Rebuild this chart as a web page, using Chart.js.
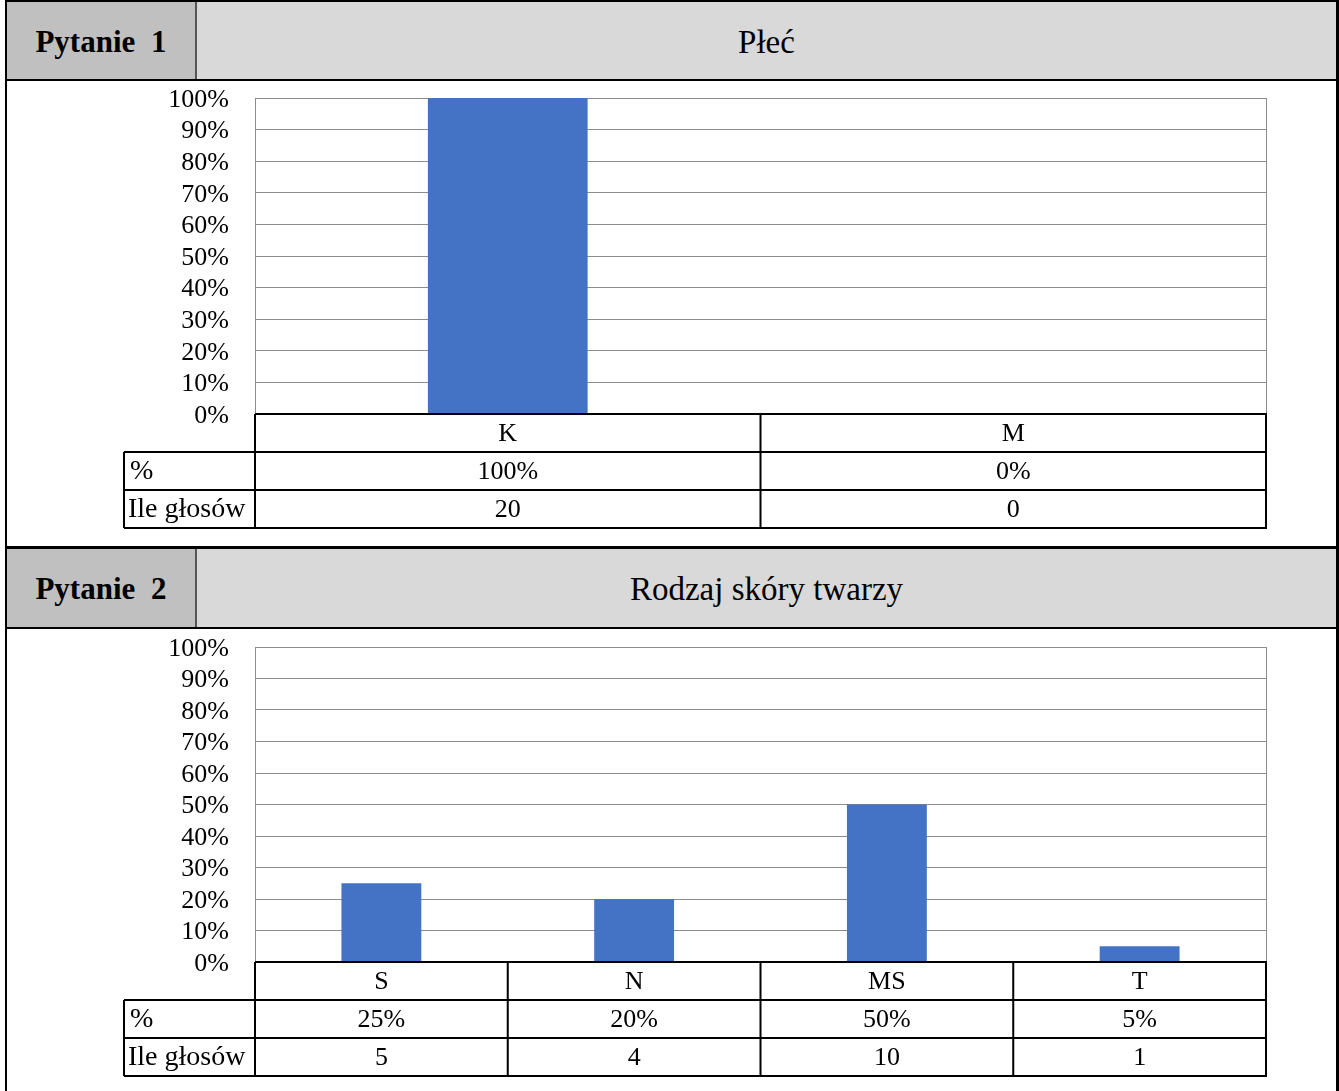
<!DOCTYPE html>
<html>
<head>
<meta charset="utf-8">
<script src="https://cdn.jsdelivr.net/npm/chart.js@4.4.0/dist/chart.umd.min.js"></script>
<style>
  body { margin: 0; background: #fff; font-family: "Liberation Serif", "Times New Roman", serif; }
  #page { position: relative; width: 1339px; height: 1091px; overflow: hidden; }
  .abs { position: absolute; }
  .qno { background: #c0c0c0; font-weight: bold; font-size: 31px; display: flex; align-items: center; justify-content: center; word-spacing: 8px; padding-top: 2px; box-sizing: border-box; }
  .qtitle { background: #d9d9d9; font-size: 33px; display: flex; align-items: center; justify-content: center; padding-top: 3px; box-sizing: border-box; }
  .blk { background: #000; }
  canvas { position: absolute; left: 0; }
</style>
</head>
<body>
<div id="page">
  <!-- sekcja 1 -->
  <div class="abs qno" style="left:7px;top:2px;width:188px;height:77px;">Pytanie 1</div>
  <div class="abs" style="left:195px;top:2px;width:2px;height:77px;background:#555;"></div>
  <div class="abs qtitle" style="left:197px;top:2px;width:1139px;height:77px;">Płeć</div>
  <div class="abs blk" style="left:5px;top:79px;width:1334px;height:2px;"></div>
  <canvas id="c1" width="1336" height="465" style="top:81px;"></canvas>

  <!-- sekcja 2 -->
  <div class="abs blk" style="left:5px;top:546px;width:1334px;height:3px;"></div>
  <div class="abs qno" style="left:7px;top:549px;width:188px;height:78px;">Pytanie 2</div>
  <div class="abs" style="left:195px;top:549px;width:2px;height:78px;background:#555;"></div>
  <div class="abs qtitle" style="left:197px;top:549px;width:1139px;height:78px;">Rodzaj skóry twarzy</div>
  <div class="abs blk" style="left:5px;top:627px;width:1334px;height:2px;"></div>
  <canvas id="c2" width="1336" height="462" style="top:629px;"></canvas>

  <!-- ramka -->
  <div class="abs blk" style="left:5px;top:0;width:1334px;height:2px;"></div>
  <div class="abs blk" style="left:5px;top:0;width:2px;height:1091px;"></div>
  <div class="abs blk" style="left:1336px;top:0;width:3px;height:1091px;"></div>
</div>
<script>
// Pytanie 1
var labels1 = ['K', 'M'];
var percent1 = [100, 0];
var votes1 = [20, 0];

// Pytanie 2
var labels2 = ['S', 'N', 'MS', 'T'];
var percent2 = [25, 20, 50, 5];
var votes2 = [5, 4, 10, 1];

var yTicks = [0, 10, 20, 30, 40, 50, 60, 70, 80, 90, 100];

var fontFamily = '"Liberation Serif", "Times New Roman", serif';
var rowH = 38;
var labelLeft = 124;

// tabela danych pod wykresem, kolumny liczone ze skali x
var tablePlugin = {
  id: 'dataTable',
  afterDraw: function(chart) {
    var ctx = chart.ctx;
    var x = chart.scales.x;
    var area = chart.chartArea;
    var cats = chart.data.labels;
    var pct = chart.options.plugins.dataTable.percent;
    var votes = chart.options.plugins.dataTable.votes;
    var half = (x.right - x.left) / cats.length / 2;
    var top = area.bottom;

    ctx.save();
    // prawa krawedz obszaru wykresu
    ctx.strokeStyle = '#8c8c8c';
    ctx.lineWidth = 1;
    ctx.beginPath();
    ctx.moveTo(area.right + 0.5, area.top);
    ctx.lineTo(area.right + 0.5, area.bottom);
    ctx.stroke();

    ctx.strokeStyle = '#000';
    ctx.lineWidth = 2;
    ctx.beginPath();
    ctx.moveTo(area.left, top);
    ctx.lineTo(area.right + 1, top);
    for (var r = 1; r <= 3; r++) {
      ctx.moveTo(labelLeft, top + r * rowH);
      ctx.lineTo(area.right + 1, top + r * rowH);
    }
    ctx.moveTo(labelLeft, top + rowH);
    ctx.lineTo(labelLeft, top + 3 * rowH);
    ctx.moveTo(area.left, top);
    ctx.lineTo(area.left, top + 3 * rowH);
    for (var i = 0; i < cats.length; i++) {
      var edge = x.getPixelForValue(i) + half;
      ctx.moveTo(edge, top);
      ctx.lineTo(edge, top + 3 * rowH);
    }
    ctx.stroke();

    ctx.fillStyle = '#000';
    ctx.font = '26px ' + fontFamily;
    ctx.textBaseline = 'middle';
    ctx.textAlign = 'center';
    for (var j = 0; j < cats.length; j++) {
      var cx = x.getPixelForValue(j);
      ctx.fillText(cats[j], cx, top + rowH / 2 + 1);
      ctx.fillText(pct[j] + '%', cx, top + rowH * 1.5 + 1);
      ctx.fillText(String(votes[j]), cx, top + rowH * 2.5 + 1);
    }
    ctx.textAlign = 'left';
    ctx.font = '28px ' + fontFamily;
    ctx.fillText('%', labelLeft + 6, top + rowH * 1.5 + 1);
    ctx.fillText('Ile głosów', labelLeft + 4, top + rowH * 2.5 + 1);
    ctx.restore();
  }
};

function makeChart(id, labels, values, votes, padTop, padBottom) {
  var ctx = document.getElementById(id).getContext('2d');
  return new Chart(ctx, {
    type: 'bar',
    data: {
      labels: labels,
      datasets: [{
        data: values,
        backgroundColor: '#4472c4',
        borderWidth: 0,
        categoryPercentage: 1,
        barPercentage: 0.316
      }]
    },
    options: {
      responsive: false,
      animation: false,
      devicePixelRatio: 1,
      layout: { padding: { left: 0, top: padTop, right: 70, bottom: padBottom } },
      plugins: {
        legend: { display: false },
        tooltip: { enabled: false },
        dataTable: { percent: values, votes: votes }
      },
      scales: {
        x: {
          display: false
        },
        y: {
          min: 0,
          max: 100,
          afterFit: function(scale) {
            scale.width = 255;
            scale.paddingTop = 0;
            scale.paddingBottom = 0;
          },
          afterBuildTicks: function(scale) {
            scale.ticks = yTicks.map(function(v) { return { value: v }; });
          },
          grid: { color: '#8c8c8c', drawTicks: false, lineWidth: 1 },
          border: { display: true, color: '#8c8c8c', width: 1 },
          ticks: {
            autoSkip: false,
            padding: 26,
            labelOffset: 2,
            color: '#000',
            font: { family: fontFamily, size: 26 },
            callback: function(v) { return v + '%'; }
          }
        }
      }
    },
    plugins: [tablePlugin]
  });
}

makeChart('c1', labels1, percent1, votes1, 17, 465 - 333);
makeChart('c2', labels2, percent2, votes2, 18, 462 - 333);
</script>
</body>
</html>
